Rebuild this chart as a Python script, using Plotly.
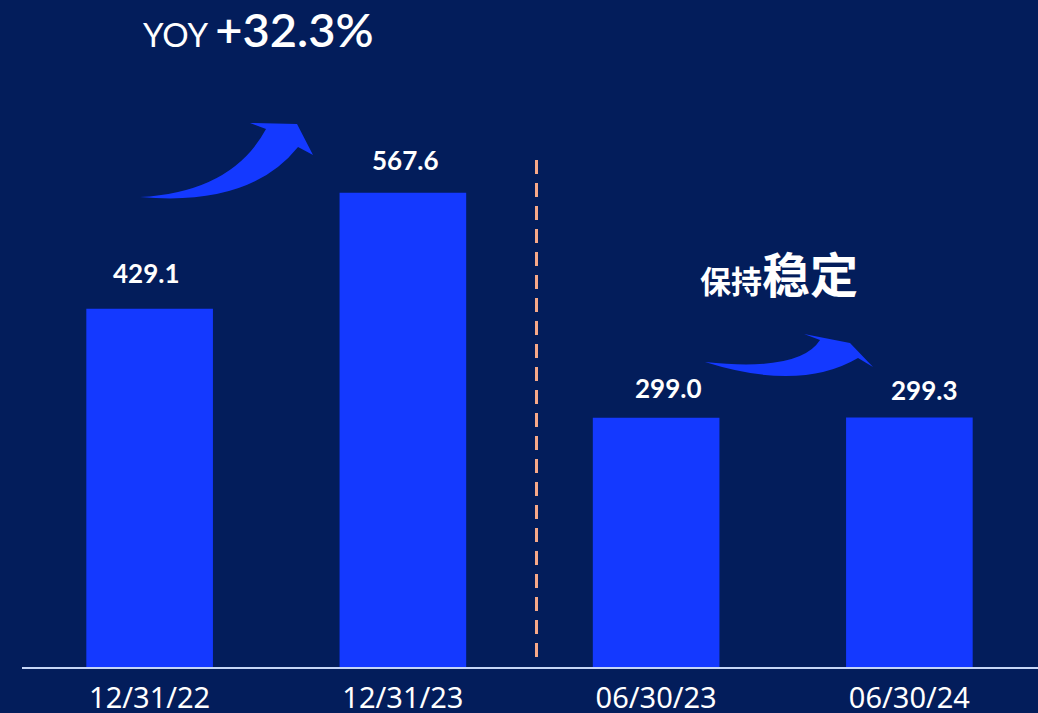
import plotly.graph_objects as go

categories = ["12/31/22", "12/31/23", "06/30/23", "06/30/24"]
values = [429.1, 567.6, 299.0, 299.3]
value_labels = ["429.1", "567.6", "299.0", "299.3"]

# label offsets (px) from the top centre of each bar, as laid out on the slide
label_dx = [-3, 3, 12, 15]
label_dy = [36, 33, 30, 27]

BG = "#031D5B"
BAR = "#1439FF"
WHITE = "#FFFFFF"

FIG_W, FIG_H = 1038, 713
M = dict(l=23, r=2, t=0, b=45)
PW = FIG_W - M["l"] - M["r"]
PH = FIG_H - M["t"] - M["b"]


def px(x, y):
    """pixel position on the page -> paper coords string for shape paths"""
    return f"{(x - M['l']) / PW:.4f},{(PH + M['t'] - y) / PH:.4f}"


def pxx(x):
    return (x - M["l"]) / PW


def pxy(y):
    return (PH + M["t"] - y) / PH


fig = go.Figure(go.Bar(
    x=categories, y=values,
    marker_color=BAR, marker_line_width=0,
    width=0.5, hoverinfo="skip", showlegend=False,
))

# value labels above the bars
for cat, val, lab, dx, dy in zip(categories, values, value_labels, label_dx, label_dy):
    fig.add_annotation(
        x=cat, y=val, text=f"<b>{lab}</b>", showarrow=False,
        xshift=dx, yshift=dy, yanchor="middle",
        font=dict(family="Lato", size=26, color=WHITE),
    )

fig.add_annotation(
    xref="paper", yref="paper", x=pxx(141), y=pxy(-1), xanchor="left", yanchor="top",
    text="YOY <span style='font-size:47px;font-weight:600'>+32.3%</span>", showarrow=False,
    font=dict(family="Lato", size=33, color=WHITE),
)
fig.add_annotation(
    xref="paper", yref="paper", x=pxx(698), y=pxy(235), xanchor="left", yanchor="top",
    text="<b>保持<span style='font-size:48px'>稳定</span></b>", showarrow=False,
    font=dict(family="Noto Sans CJK SC", size=31, color=WHITE),
)

arrow1 = (f"M {px(140,197)} Q {px(232,192)} {px(266,129)} L {px(250,123)} "
          f"L {px(297,124)} L {px(313,155)} L {px(298,147)} Q {px(250,207)} {px(140,197)} Z")
arrow2 = (f"M {px(705,362)} Q {px(800,372)} {px(820,340)} L {px(804,334)} "
          f"L {px(850,343)} L {px(873,367)} L {px(858,358)} Q {px(800,392)} {px(705,362)} Z")

shapes = [
    dict(type="path", path=arrow1, xref="paper", yref="paper",
         fillcolor=BAR, line=dict(width=0)),
    dict(type="path", path=arrow2, xref="paper", yref="paper",
         fillcolor=BAR, line=dict(width=0)),
    # divider between annual and half-year bars
    dict(type="line", xref="paper", yref="paper",
         x0=pxx(536.5), x1=pxx(536.5), y0=pxy(160), y1=pxy(664),
         line=dict(color="#F7A888", width=3, dash="14px,9px")),
    # baseline
    dict(type="line", xref="paper", yref="paper",
         x0=pxx(22), x1=pxx(1038), y0=0, y1=0,
         line=dict(color="#C6D6F6", width=2)),
]

fig.update_layout(
    width=FIG_W, height=FIG_H, margin=M,
    paper_bgcolor=BG, plot_bgcolor=BG,
    shapes=shapes,
    xaxis=dict(type="category", range=[-0.5, 3.5], showgrid=False, zeroline=False,
               showline=False, ticks="", ticklabelstandoff=10, automargin=False,
               tickfont=dict(family="Noto Sans", size=29, color=WHITE)),
    yaxis=dict(range=[0, 798], visible=False, showgrid=False, zeroline=False,
               automargin=False),
)

fig.write_html("out.html", config=dict(displayModeBar=False),
               post_script="document.body.style.margin='0';")
